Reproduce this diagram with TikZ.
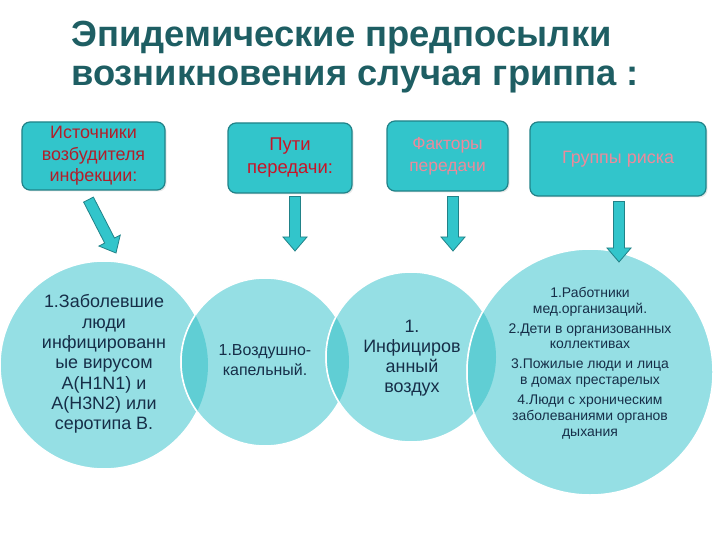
\documentclass[tikz,border=0pt]{standalone}
\usepackage{fontspec}
\setmainfont{Liberation Sans}
\usepackage{xcolor}
\usetikzlibrary{calc,shadows}

\definecolor{titlecol}{RGB}{30,94,99}
\definecolor{boxfill}{RGB}{50,197,203}
\definecolor{boxedge}{RGB}{33,130,136}
\definecolor{bubblecol}{RGB}{149,223,228}
\definecolor{lenscol}{RGB}{96,206,212}
\definecolor{darkred}{RGB}{178,30,42}
\definecolor{brightred}{RGB}{200,20,40}
\definecolor{pinktxt}{RGB}{236,138,155}
\definecolor{navytxt}{RGB}{22,46,72}

\begin{document}
\begin{tikzpicture}[x=1bp,y=-1bp]

% Stili
\tikzset{headbox/.style={draw=boxedge, fill=boxfill, line width=1.2bp, rounded corners=8bp,
    align=center, inner sep=2bp, drop shadow={opacity=0.18, shadow xshift=1.5bp, shadow yshift=-1.5bp}},
  bubble/.style={fill=bubblecol, draw=white, line width=1.5bp},
  lens/.style={fill=lenscol, draw=white, line width=1.5bp},
  bubbletext/.style={align=center, text=navytxt, inner sep=0pt},
  fatarrow/.style={draw=boxedge, fill=boxfill, line width=0.8bp,
    to path={let \p1=($(\tikztotarget)!14bp!(\tikztostart)$) in
      ($(\tikztostart)!5.5bp!90:(\tikztotarget)$) -- ($(\p1)!5.5bp!90:(\tikztotarget)$)
      -- ($(\p1)!12bp!90:(\tikztotarget)$) -- (\tikztotarget)
      -- ($(\p1)!12bp!-90:(\tikztotarget)$) -- ($(\p1)!5.5bp!-90:(\tikztotarget)$)
      -- ($(\tikztostart)!5.5bp!-90:(\tikztotarget)$) -- cycle}}}

\useasboundingbox (0,0) rectangle (720,540);

% --- Titolo ---
\node[anchor=base west, align=left, inner sep=0pt, text=titlecol,
  font=\fontsize{36.5}{40}\selectfont\bfseries] (title) at (71,86)
  {Эпидемические предпосылки\\возникновения случая гриппа :};

% --- Riquadri superiori ---
\node[headbox, minimum width=143bp, minimum height=68bp, text=darkred,
  font=\fontsize{18}{21.5}\selectfont] (src) at (93.5,156) {Источники\\возбудителя\\инфекции:};
\node[headbox, minimum width=124bp, minimum height=70bp, text=brightred,
  font=\fontsize{18.5}{23}\selectfont] (way) at (290,158) {Пути\\передачи:};
\node[headbox, minimum width=121bp, minimum height=70bp, text=pinktxt,
  font=\fontsize{17.5}{22}\selectfont] (fac) at (447.5,156) {Факторы\\передачи};
\node[headbox, minimum width=176bp, minimum height=74bp, text=pinktxt,
  font=\fontsize{18}{21}\selectfont] (risk) at (618,159) {Группы риска};

% --- Cerchi ---
\coordinate (o1) at (104,365);
\coordinate (o2) at (265,362);
\coordinate (o3) at (411,357);
\coordinate (o4) at (590,372);

\fill[bubble] (o1) circle (104bp);
\fill[bubble] (o2) circle (84bp);
\fill[bubble] (o3) circle (85bp);
\fill[bubble] (o4) circle (123bp);

% Intersezioni piu scure
\begin{scope}
  \clip (o1) circle (104bp);
  \filldraw[lens] (o2) circle (84bp);
\end{scope}
\begin{scope}
  \clip (o2) circle (84bp);
  \filldraw[lens] (o3) circle (85bp);
\end{scope}
\begin{scope}
  \clip (o3) circle (85bp);
  \filldraw[lens] (o4) circle (123bp);
\end{scope}

% Testi nei cerchi
\node[bubbletext, font=\fontsize{18}{20.4}\selectfont] (who) at ($(o1)+(0,-1)$)
  {1.Заболевшие\\люди\\инфицированн\\ые вирусом\\A(H1N1) и\\A(H3N2) или\\серотипа В.};
\node[bubbletext, font=\fontsize{16}{20}\selectfont] (air) at ($(o2)+(0,-2)$)
  {1.Воздушно-\\капельный.};
\node[bubbletext, font=\fontsize{18}{20}\selectfont] (inf) at ($(o3)+(1,1)$)
  {1.\\Инфициров\\анный\\воздух};
\node[bubbletext, font=\fontsize{14}{15.7}\selectfont] (grp) at ($(o4)+(0,-9)$)
  {1.Работники\\мед.организаций.\\[4.5bp]2.Дети в организованных\\коллективах\\[4.5bp]3.Пожилые люди и лица\\в домах престарелых\\[4.5bp]4.Люди с хроническим\\заболеваниями органов\\дыхания};

% --- Frecce ---
\coordinate (p1) at (116,253);
\coordinate (p2) at (295,251);
\coordinate (p3) at (453,251);
\coordinate (p4) at (619,262);

\draw[fatarrow] ([shift={(-5,9)}]src.south) to (p1);
\draw[fatarrow] ([shift={(5,3)}]way.south) to (p2);
\draw[fatarrow] ([shift={(5.5,5)}]fac.south) to (p3);
\draw[fatarrow] ([shift={(1,5)}]risk.south) to (p4);

\end{tikzpicture}
\end{document}
